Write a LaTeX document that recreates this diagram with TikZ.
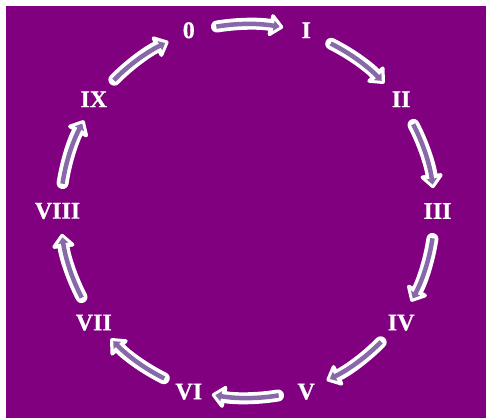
\documentclass[tikz,border=0pt]{standalone}
\usepackage{fontspec}
\newfontfamily\lblfont{Liberation Serif}[BoldFeatures={FakeBold=0.6}]
\usetikzlibrary{arrows.meta}
\definecolor{bgpurple}{RGB}{128,0,128}
\definecolor{lav}{RGB}{135,105,170}
\tikzset{
  lbl/.style={text=white,font=\lblfont\fontsize{24}{28}\selectfont\bfseries,inner sep=0pt},
  outerarrow/.style={draw=white,line width=12pt,line cap=round,line join=round,
    -{Triangle[width=26pt,length=15pt,round]}},
  innerarrow/.style={draw=lav,line width=4.5pt,
    -{Triangle[width=10pt,length=6pt]}}
}
\begin{document}
\begin{tikzpicture}[x=1pt,y=1pt]
\useasboundingbox (0,0) rectangle (486,418);
\fill[white] (0,0) rectangle (486,418);
\fill[bgpurple] (6,0) rectangle (486,412);
\coordinate (c) at (247.5,207);
\foreach \i/\t in {0/0,1/I,2/II,3/III,4/IV,5/V,6/VI,7/VII,8/VIII,9/IX}{
  \pgfmathsetmacro{\ang}{108-36*\i}
  \node[lbl] (L\i) at ([shift={(\ang:190)}]c) {\t};
}
\foreach \i in {0,...,9}{
  \pgfmathsetmacro{\mid}{90-36*\i}
  \pgfmathsetmacro{\sa}{\mid+9.4}
  \pgfmathsetmacro{\ea}{\mid-11}
  \pgfmathsetmacro{\sb}{\mid+9.6}
  \pgfmathsetmacro{\eb}{\mid-9.9}
  \coordinate (A\i) at ([shift={(\sa:187)}]c);
  \coordinate (B\i) at ([shift={(\sb:187)}]c);
  \draw[outerarrow] (A\i) arc[start angle=\sa,end angle=\ea,radius=187];
  \draw[innerarrow] (B\i) arc[start angle=\sb,end angle=\eb,radius=187];
}
\end{tikzpicture}
\end{document}
